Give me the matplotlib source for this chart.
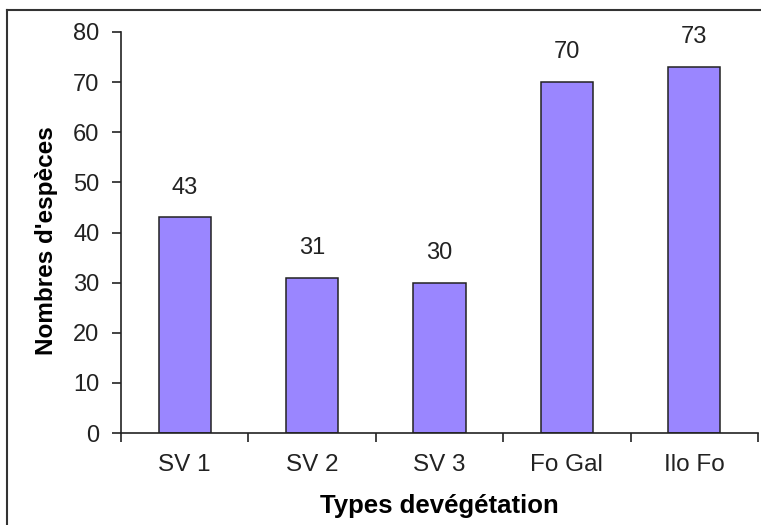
import matplotlib
matplotlib.use("Agg")
import matplotlib.pyplot as plt
from matplotlib.lines import Line2D

plt.rcParams["font.family"] = ["Liberation Sans", "DejaVu Sans"]

categories = ["SV 1", "SV 2", "SV 3", "Fo Gal", "Ilo Fo"]
species_counts = [43, 31, 30, 70, 73]
y_ticks = [0, 10, 20, 30, 40, 50, 60, 70, 80]

fig = plt.figure(figsize=(7.61, 5.25), dpi=100)
ax = fig.add_axes([121 / 761, 1 - 433 / 525, (758 - 121) / 761, (433 - 32) / 525])

x = range(len(categories))
ax.bar(x, species_counts, width=0.41, color="#9a86ff", edgecolor="#222222", linewidth=1.1)

# value labels above the bars
for xi, v in zip(x, species_counts):
    ax.annotate(str(v), (xi, v), xytext=(0, 21.5), textcoords="offset points",
                ha="center", va="center", fontsize=17, color="#222222")

ax.set_xlim(-0.5, len(categories) - 0.5)
ax.set_ylim(0, 80)
ax.set_yticks(y_ticks)
ax.tick_params(axis="y", direction="out", length=6.5, width=1.2, labelsize=17,
               pad=9, colors="#222222")

# category labels in the middle, ticks on the category boundaries
ax.set_xticks(list(x))
ax.set_xticklabels(categories, fontsize=17.5, color="#222222")
ax.tick_params(axis="x", length=0, pad=15)
ax.set_xticks([i - 0.5 for i in range(len(categories) + 1)], minor=True)
ax.tick_params(axis="x", which="minor", direction="out", length=6.5, width=1.2,
               colors="#222222")

for side in ["top", "right"]:
    ax.spines[side].set_visible(False)
for side in ["left", "bottom"]:
    ax.spines[side].set_linewidth(1.2)
    ax.spines[side].set_color("#222222")

ax.set_xlabel("Types devégétation", fontsize=18.5, fontweight="bold")
ax.set_ylabel("Nombres d'espèces", fontsize=17.5, fontweight="bold")
ax.xaxis.set_label_coords(0.5, -0.152)
ax.yaxis.set_label_coords(-0.099, 0.479)

# outer frame of the chart area
fig.add_artist(Line2D([7 / 761, 7 / 761], [0, 1 - 10 / 525], transform=fig.transFigure,
                      color="#333333", linewidth=1.5))
fig.add_artist(Line2D([7 / 761, 1], [1 - 10 / 525, 1 - 10 / 525], transform=fig.transFigure,
                      color="#333333", linewidth=1.5))

fig.savefig("out.png", dpi=100)
